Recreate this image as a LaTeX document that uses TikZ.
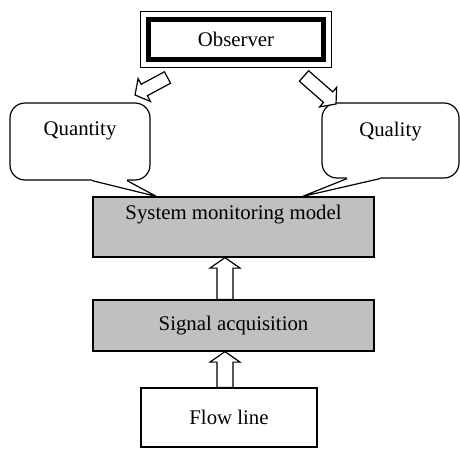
\documentclass[tikz,border=0pt]{standalone}
\usepackage{fontspec}
\setmainfont{Liberation Serif}
\usetikzlibrary{calc}
\definecolor{boxgray}{RGB}{192,192,192}

\begin{document}
\begin{tikzpicture}[x=1pt,y=1pt,line width=1.2pt,
  every node/.style={font=\fontsize{20.8}{25}\selectfont},
  plainbox/.style={draw,inner sep=0pt},
  graybox/.style={plainbox,fill=boxgray},
  bubble/.style={draw,fill=white,rounded corners=15pt,inner sep=0pt,
    minimum height=77pt}]
% Helper macro: \hollowarrow{from}{to}{shaft half width}{head half width}
\newcommand{\hollowarrow}[4]{%
  \draw[fill=white] let \p1=($(#2)-(#1)$), \n1={atan2(\y1,\x1)},
    \n2={veclen(\x1,\y1)} in [shift={(#1)},rotate=\n1]
    (0,-#3) -- (\n2-10.5,-#3) -- (\n2-10.5,-#4) -- (\n2,0)
    -- (\n2-10.5,#4) -- (\n2-10.5,#3) -- (0,#3) -- cycle;
}
\useasboundingbox (0,0) rectangle (460,-448);

% Observer with framed border
\node[plainbox,line width=5.5pt,minimum width=175pt,minimum height=40pt]
  (obs) at (236,-39.5) {Observer};
\draw[line width=1pt] ($(obs.north west)+(-5,5)$) rectangle ($(obs.south east)+(5,-5)$);

% Blocks
\node[graybox,minimum width=281pt,minimum height=60pt,
  text height=14pt,text depth=30pt] (smm) at (233.5,-227) {System monitoring model};
\node[graybox,minimum width=281pt,minimum height=51pt] (sig) at (233.5,-325.5)
  {Signal acquisition};
\node[plainbox,minimum width=176pt,minimum height=59pt] (flow) at (229,-417.5)
  {Flow line};

% Callouts
\node[bubble,minimum width=140pt,text height=14pt,text depth=27pt]
  (qty) at (80,-141.5) {Quantity};
\node[bubble,minimum width=137pt,minimum height=75pt,text height=14pt,
  text depth=23pt] (qlt) at (390.5,-140.5) {Quality};

\coordinate (qtyb1) at ($(qty.south)+(12,0)$);
\coordinate (qtyb2) at ($(qty.south)+(47,0)$);
\coordinate (qtytip) at ($(smm.north west)+(64,0)$);
\draw[white,line width=2.5pt] (qtyb1) -- (qtyb2);
\draw (qtyb1) -- (qtytip) -- (qtyb2);

\coordinate (qltb1) at ($(qlt.south)+(-43.5,0)$);
\coordinate (qltb2) at ($(qlt.south)+(-10.5,0)$);
\coordinate (qlttip) at ($(smm.north east)+(-72,0)$);
\draw[white,line width=2.5pt] (qltb1) -- (qltb2);
\draw (qltb1) -- (qlttip) -- (qltb2);

% Arrows from the observer
\coordinate (lfrom) at (167.5,-77.5);
\coordinate (lto) at (135,-95);
\coordinate (rfrom) at (304,-76);
\coordinate (rto) at (336,-104);
\hollowarrow{lfrom}{lto}{6.5}{13}
\hollowarrow{rfrom}{rto}{7}{13}

% Arrows between blocks
\coordinate (sigtop) at ($(sig.north)+(-8.5,0)$);
\coordinate (smmbot) at ($(smm.south)+(-8.5,0)$);
\coordinate (flowtop) at ($(flow.north)+(-4,0)$);
\coordinate (sigbot) at ($(sig.south)+(-8.5,0)$);
\hollowarrow{sigtop}{smmbot}{8}{15}
\hollowarrow{flowtop}{sigbot}{8}{15}
\end{tikzpicture}
\end{document}
